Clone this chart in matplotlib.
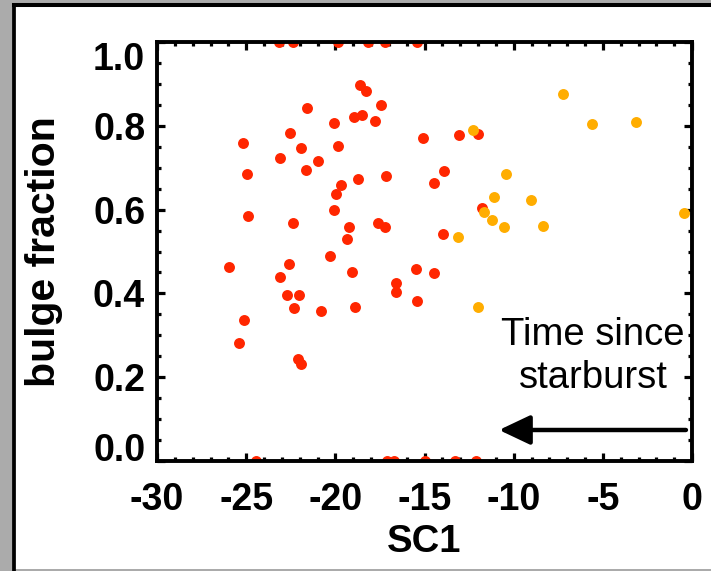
import matplotlib
matplotlib.use("Agg")
import matplotlib.pyplot as plt
from matplotlib.ticker import MultipleLocator
from matplotlib.lines import Line2D
from matplotlib.patches import Rectangle

# SC1 vs bulge fraction
red_sc1 = [-23.16, -22.37, -19.85, -18.17, -17.21, -15.42,
           -24.45, -17.10, -16.71, -14.97, -13.29, -12.11,
           -18.62, -18.28, -21.61, -17.44, -18.95, -18.50, -17.78, -20.07,
           -25.16, -22.54, -15.07, -21.93, -19.87, -23.10, -20.99, -24.94,
           -21.66, -18.71, -17.16, -19.70, -19.98, -20.06, -24.88, -22.39,
           -17.59, -17.21, -19.22, -19.36, -13.89, -14.45, -13.07, -12.02,
           -11.76, -13.95, -25.95, -22.58, -20.30, -23.10, -19.08, -22.73,
           -22.02, -22.32, -20.80, -18.90, -16.60, -16.60, -15.49, -15.44,
           -14.45, -25.12, -25.38, -22.11, -21.94]
red_bf = [1.0, 1.0, 1.0, 1.0, 1.0, 1.0,
          0.0, 0.0, 0.0, 0.0, 0.0, 0.0,
          0.897, 0.883, 0.843, 0.850, 0.822, 0.826, 0.812, 0.806,
          0.758, 0.784, 0.770, 0.746, 0.752, 0.722, 0.717, 0.685,
          0.695, 0.674, 0.680, 0.659, 0.637, 0.599, 0.585, 0.567,
          0.567, 0.558, 0.558, 0.531, 0.693, 0.663, 0.777, 0.780,
          0.605, 0.542, 0.464, 0.469, 0.489, 0.440, 0.452, 0.396,
          0.395, 0.364, 0.358, 0.367, 0.426, 0.404, 0.458, 0.382,
          0.448, 0.337, 0.281, 0.243, 0.232]

orange_sc1 = [-7.25, -5.61, -3.14, -12.26, -10.43, -11.09, -9.04,
              -0.45, -11.65, -11.20, -10.54, -8.37, -13.14, -11.98]
orange_bf = [0.876, 0.804, 0.810, 0.790, 0.685, 0.629, 0.623,
             0.591, 0.594, 0.574, 0.558, 0.562, 0.535, 0.368]

plt.rcParams['font.family'] = ['Liberation Sans', 'DejaVu Sans']
plt.rcParams['axes.unicode_minus'] = False

W, H = 711, 571
fig = plt.figure(figsize=(W / 100, H / 100), dpi=100)
fig.patch.set_facecolor('#ababab')

# white slide panel with black edges on left and top
fig.patches.append(Rectangle((14 / W, 1 - 569 / H), 1.0, (569 - 4.7) / H,
                             transform=fig.transFigure, facecolor='white',
                             edgecolor='none', zorder=-10))
fig.lines.append(Line2D([14 / W, 14 / W], [0, 1 - 4.7 / H], transform=fig.transFigure,
                        color='black', lw=2.7, zorder=-5))
fig.lines.append(Line2D([14 / W, 1], [1 - 4.7 / H, 1 - 4.7 / H], transform=fig.transFigure,
                        color='black', lw=2.9, zorder=-5))

ax = fig.add_axes([157 / W, 1 - 461 / H, 535 / W, 419 / H])
ax.set_facecolor('white')

ax.scatter(red_sc1, red_bf, s=62, color='#ff2600', linewidths=0, zorder=2)
ax.scatter(orange_sc1, orange_bf, s=62, color='#ffad00', linewidths=0, zorder=3)

ax.set_xlim(-30, 0)
ax.set_ylim(0, 1)
ax.set_xticks([-30, -25, -20, -15, -10, -5, 0])
ax.set_yticks([0.0, 0.2, 0.4, 0.6, 0.8, 1.0])
ax.set_yticklabels(['0.0', '0.2', '0.4', '0.6', '0.8', '1.0'])
ax.xaxis.set_minor_locator(MultipleLocator(1))
ax.yaxis.set_minor_locator(MultipleLocator(0.05))

for sp in ax.spines.values():
    sp.set_linewidth(2.8)
ax.tick_params(which='both', direction='in', top=True, right=True, width=2.3)
ax.tick_params(which='major', length=5.5)
ax.tick_params(which='minor', length=3)
ax.tick_params(axis='x', which='major', pad=15)
ax.tick_params(axis='y', which='major', pad=8.5)

for lab in ax.get_xticklabels() + ax.get_yticklabels():
    lab.set_fontsize(27)
    lab.set_fontweight('bold')

yt = ax.yaxis.get_major_ticks()
yt[0].label1.set_va('baseline')
yt[-1].label1.set_va('top')

ax.set_xlabel('SC1', fontsize=27.5, fontweight='bold')
ax.set_ylabel('bulge fraction', fontsize=29.5, fontweight='bold')
ax.xaxis.set_label_coords(0.5, -0.15)
ax.yaxis.set_label_coords(-0.175, 0.5)

ax.annotate('', xy=(-10.82, 0.074), xytext=(-0.34, 0.074),
            arrowprops=dict(arrowstyle='-|>,head_length=0.95,head_width=0.45',
                            color='black', lw=3.2, mutation_scale=20,
                            shrinkA=0, shrinkB=0))
ax.text(-5.55, 0.25, 'Time since\nstarburst', fontsize=27.5, ha='center', va='center',
        linespacing=1.25)

fig.savefig('out.png', dpi=100, facecolor=fig.get_facecolor())
